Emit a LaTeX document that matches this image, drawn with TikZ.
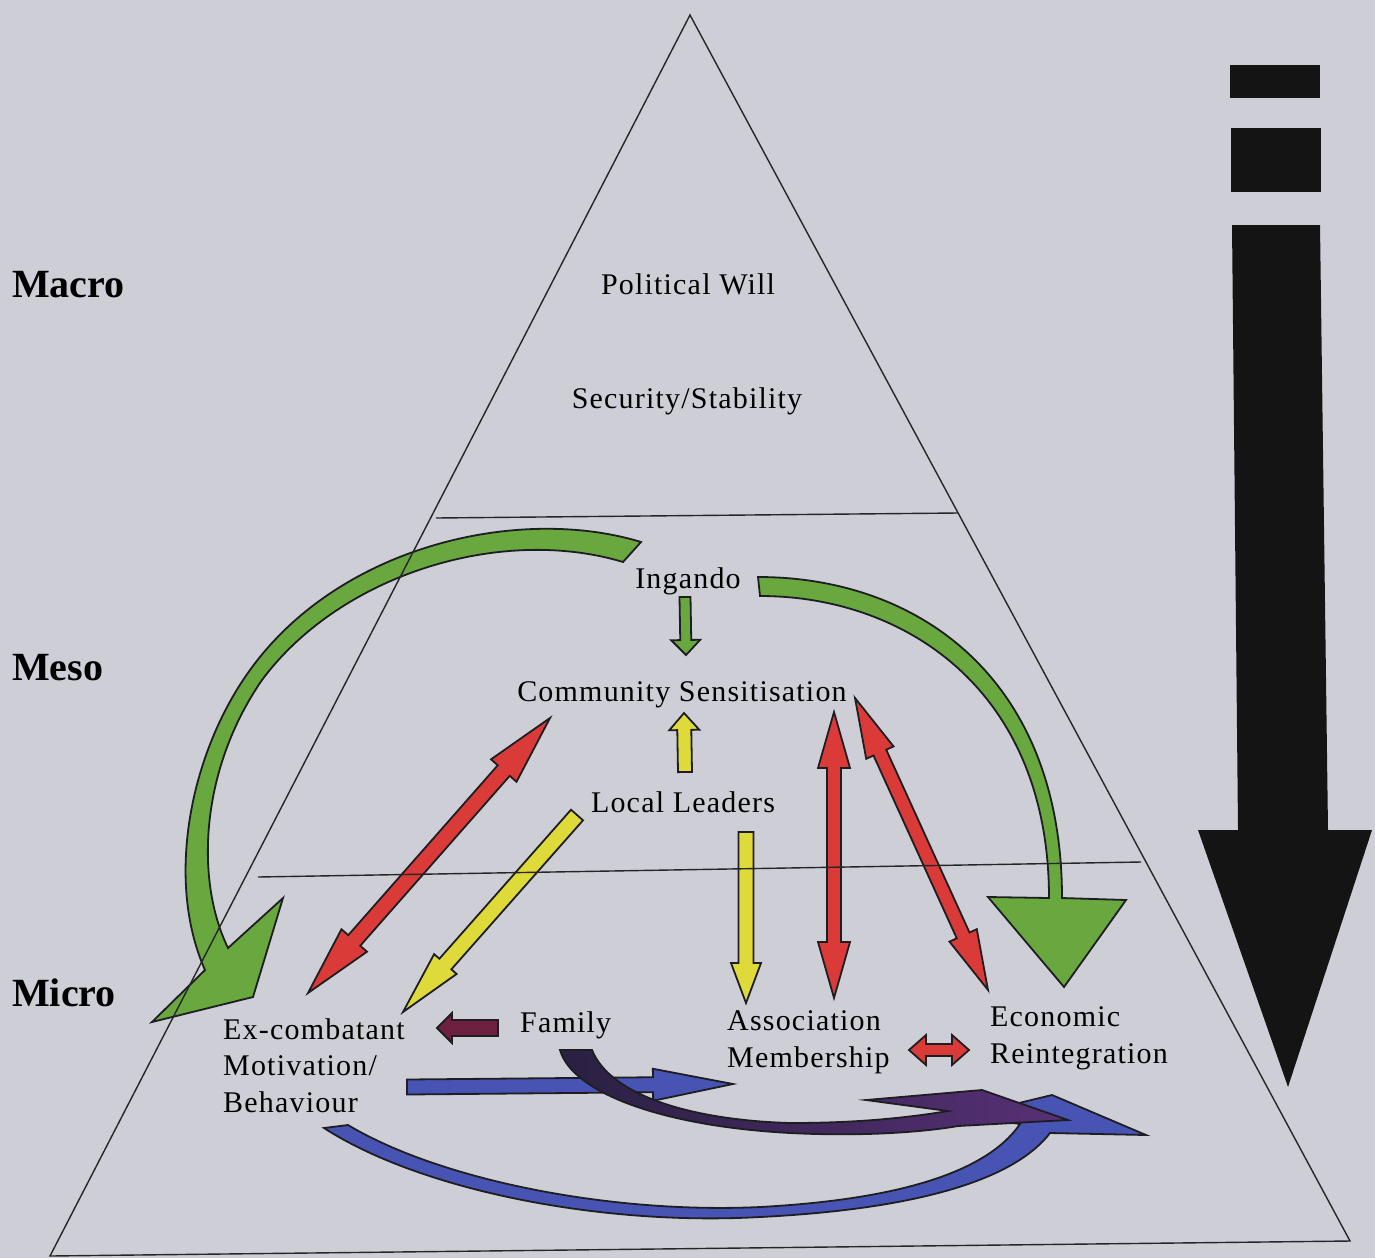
\documentclass[tikz,border=0pt]{standalone}
\usepackage{fontspec}
\setmainfont{Liberation Serif}
\newfontfamily\labfont[LetterSpace=4]{Liberation Serif}
\usetikzlibrary{calc}

\definecolor{paper}{RGB}{206,207,214}
\definecolor{leafgreen}{RGB}{104,168,62}
\definecolor{arrowred}{RGB}{218,58,56}
\definecolor{arrowyellow}{RGB}{222,218,58}
\definecolor{arrowblue}{RGB}{72,84,180}
\definecolor{purpletail}{RGB}{42,32,66}
\definecolor{purplehead}{RGB}{88,48,118}
\definecolor{arrowmaroon}{RGB}{110,32,64}
\definecolor{inkdark}{RGB}{30,30,34}

\tikzset{
  level/.style={font=\fontsize{40}{44}\selectfont\bfseries, anchor=base west, inner sep=0pt},
  lab/.style={font=\fontsize{30}{36.5}\selectfont\labfont, inner sep=0pt, anchor=base, align=center},
  labl/.style={font=\fontsize{30}{36.5}\selectfont\labfont, inner sep=0pt, anchor=base west, align=left},
  outlined/.style={draw=inkdark, line width=1.8pt, line join=miter},
  greenarrow/.style={outlined, fill=leafgreen},
  redarrow/.style={outlined, fill=arrowred},
  yellowarrow/.style={outlined, fill=arrowyellow},
  bluearrow/.style={outlined, fill=arrowblue},
  purplearrow/.style={outlined, left color=purpletail, right color=purplehead},
  maroonarrow/.style={outlined, fill=arrowmaroon},
  tier/.style={draw=black!85, line width=1.4pt},
}

% straight block arrow: style, tail, tip, half shaft width, half head width, head length
\newcommand\singlearrow[6]{%
  \coordinate (bahead) at ($(#3)!#6!(#2)$);
  \path[#1] ($(#2)!#4!90:(#3)$) -- ($(bahead)!#4!-90:(#2)$) -- ($(bahead)!#5!-90:(#2)$)
    -- (#3) -- ($(bahead)!#5!90:(#2)$) -- ($(bahead)!#4!90:(#2)$) -- ($(#2)!#4!-90:(#3)$) -- cycle;
}
% straight block arrow with a head at both ends
\newcommand\doublearrow[6]{%
  \coordinate (baheadA) at ($(#2)!#6!(#3)$);
  \coordinate (baheadB) at ($(#3)!#6!(#2)$);
  \path[#1] (#2) -- ($(baheadA)!#5!90:(#3)$) -- ($(baheadA)!#4!90:(#3)$)
    -- ($(baheadB)!#4!-90:(#2)$) -- ($(baheadB)!#5!-90:(#2)$) -- (#3)
    -- ($(baheadB)!#5!90:(#2)$) -- ($(baheadB)!#4!90:(#2)$)
    -- ($(baheadA)!#4!-90:(#3)$) -- ($(baheadA)!#5!-90:(#3)$) -- cycle;
}

\begin{document}
\begin{tikzpicture}[x=1pt, y=-1pt]
  \useasboundingbox (0,0) rectangle (1375,1258);
  \fill[paper] (0,0) rectangle (1375,1258);

  % level labels
  \node[level] (macro) at (12,297) {Macro};
  \node[level] (meso)  at (12,680) {Meso};
  \node[level] (micro) at (12,1006) {Micro};

  % pyramid labels (multi-line nodes sit on the baseline of their last line)
  \node[lab] (will)      at (688,294) {Political Will};
  \node[lab] (security)  at (687,408) {Security/Stability};
  \node[lab] (ingando)   at (688,588) {Ingando};
  \node[lab] (community) at (682,701) {Community Sensitisation};
  \node[lab] (leaders)   at (683,812) {Local Leaders};
  \node[labl] (excomb)   at (223,1112) {Ex-combatant\\Motivation/\\Behaviour};
  \node[labl] (family)   at (520,1032) {Family};
  \node[labl] (assoc)    at (727,1067) {Association\\Membership};
  \node[labl] (econ)     at (990,1063) {Economic\\Reintegration};

  % arrow end points
  \coordinate (ing-out)   at (685,597);
  \coordinate (com-in)    at (686,655);
  \coordinate (lead-up)   at (685,772);
  \coordinate (com-low)   at (684,713);
  \coordinate (ex-red)    at (308,993);
  \coordinate (com-red)   at (550,718);
  \coordinate (lead-ex)   at (577,815);
  \coordinate (ex-yel)    at (403,1012);
  \coordinate (lead-as)   at (746,832);
  \coordinate (as-yel)    at (746,1003);
  \coordinate (com-redA)  at (834,712);
  \coordinate (as-red)    at (834,998);
  \coordinate (com-redB)  at (855,698);
  \coordinate (ec-red)    at (988,990);
  \coordinate (fam-out)   at (498,1028);
  \coordinate (ex-fam)    at (437,1028);
  \coordinate (as-ec)     at (909,1050);
  \coordinate (ec-as)     at (969,1050);
  \coordinate (ex-blue)   at (407,1087);
  \coordinate (as-blue)   at (733,1084);

  % large curved green arrows from Ingando
  \path[greenarrow] (641,542) .. controls (520,505) and (340,545) .. (250,670)
    .. controls (190,753) and (165,880) .. (205,970) -- (152,1022) -- (253,997)
    -- (283,898) -- (228,948) .. controls (195,880) and (200,770) .. (262,680)
    .. controls (340,575) and (500,525) .. (623,562) -- cycle;
  \path[greenarrow] (758,577) .. controls (920,577) and (1062,680) .. (1062,898)
    -- (1126,900) -- (1064,987) -- (988,897) -- (1049,898)
    .. controls (1049,690) and (905,596) .. (760,596) -- cycle;

  % straight block arrows
  \singlearrow{greenarrow}{ing-out}{com-in}{5.5pt}{14.5pt}{15pt}
  \singlearrow{yellowarrow}{lead-up}{com-low}{7pt}{15pt}{17pt}
  \doublearrow{redarrow}{ex-red}{com-red}{8pt}{17pt}{70pt}
  \singlearrow{yellowarrow}{lead-ex}{ex-yel}{8pt}{15pt}{64pt}
  \singlearrow{yellowarrow}{lead-as}{as-yel}{7.5pt}{15pt}{40pt}
  \doublearrow{redarrow}{com-redA}{as-red}{7pt}{16pt}{56pt}
  \doublearrow{redarrow}{com-redB}{ec-red}{7pt}{15pt}{60pt}
  \singlearrow{maroonarrow}{fam-out}{ex-fam}{8pt}{15pt}{15pt}
  \doublearrow{redarrow}{as-ec}{ec-as}{6pt}{15pt}{17pt}
  \singlearrow{bluearrow}{ex-blue}{as-blue}{7.5pt}{16pt}{80pt}

  % lower curved arrows towards Economic Reintegration
  \path[bluearrow] (324,1128) .. controls (420,1190) and (600,1226) .. (760,1217)
    .. controls (900,1210) and (1010,1185) .. (1050,1133) -- (1146,1135) -- (1052,1095)
    -- (965,1116) -- (1020,1124) .. controls (985,1175) and (890,1200) .. (760,1207)
    .. controls (610,1214) and (440,1180) .. (348,1125) -- cycle;
  \path[purplearrow] (560,1050) .. controls (572,1092) and (660,1126) .. (790,1133)
    .. controls (870,1137) and (930,1131) .. (958,1126) -- (1068,1120) -- (982,1090)
    -- (866,1100) -- (948,1111) .. controls (900,1119) and (850,1123) .. (790,1123)
    .. controls (690,1120) and (610,1095) .. (592,1050) -- cycle;

  % pyramid outline and tiers
  \coordinate (apex)  at (690,15);
  \coordinate (baseL) at (50,1256);
  \coordinate (baseR) at (1350,1241);
  \draw[tier] (baseL) -- (apex) -- (baseR) -- cycle;
  \draw[tier] (436,518) -- (958,513);
  \draw[tier] (258,877) -- (1141,862);

  % top-down arrow at the side
  \fill[black!92] (1230,65) rectangle (1320,98);
  \fill[black!92] (1231,128) rectangle (1321,192);
  \fill[black!92] (1232,225) -- (1320,225) -- (1328,830) -- (1372,830) -- (1288,1087)
    -- (1198,830) -- (1238,830) -- cycle;
\end{tikzpicture}
\end{document}
